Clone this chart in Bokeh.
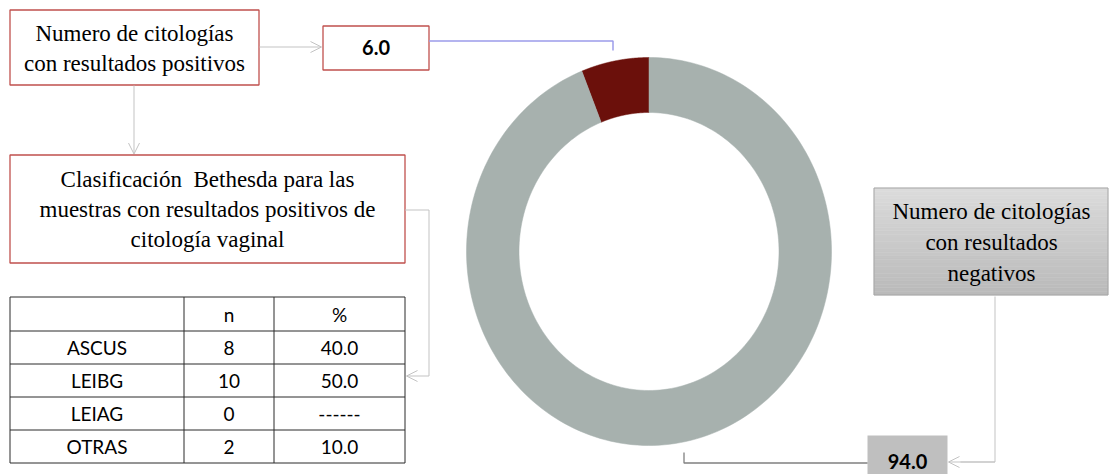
import numpy as np
from bokeh.plotting import figure
from bokeh.models import Range1d, Arrow, OpenHead
from bokeh.core.properties import value
from bokeh.embed import file_html
from bokeh.resources import INLINE

# ---- data ----
pie_labels = ["Positivos", "Negativos"]
pie_values = [6.0, 94.0]
pie_colors = ["#6b100b", "#a7b1ae"]

table_header = ["", "n", "%"]
table_cats = ["ASCUS", "LEIBG", "LEIAG", "OTRAS"]
table_n = ["8", "10", "0", "2"]
table_pct = ["40.0", "50.0", "------", "10.0"]

pos_label = ["Numero de citologías", "con resultados positivos"]
beth_label = ["Clasificación\u00a0\u00a0Bethesda para las", "muestras con resultados positivos de", "citología vaginal"]
neg_label = ["Numero de citologías", "con resultados", "negativos"]

W, H = 1110, 474
p = figure(width=W, height=H, x_range=Range1d(0, W), y_range=Range1d(H, 0),
           output_backend="svg", toolbar_location=None,
           x_axis_type=None, y_axis_type=None, min_border=0)
p.grid.visible = False
p.outline_line_color = None
p.background_fill_color = "white"

SERIF = value("Liberation Serif")
SANS = value("Lato")
RED = "#c0504d"
CONN = "#c3c3c3"

# ---- donut ----
cx, cy = 648.5, 251.0
rxo, ryo = 182.5, 194.0
rxi, ryi = 130.0, 139.0
total = sum(pie_values)
start = np.pi / 2
xs, ys = [], []
for v in pie_values:
    end = start + 2 * np.pi * v / total
    t = np.linspace(start, end, 200)
    ox = cx + rxo * np.cos(t); oy = cy - ryo * np.sin(t)
    ix = cx + rxi * np.cos(t[::-1]); iy = cy - ryi * np.sin(t[::-1])
    xs.append(list(np.concatenate([ox, ix])))
    ys.append(list(np.concatenate([oy, iy])))
    start = end
p.patches(xs, ys, fill_color=pie_colors, line_color=pie_colors, line_width=0.5)

# ---- box 1 : positives ----
p.quad(left=[9.5], right=[258.5], top=[9.5], bottom=[84.5], fill_color="white",
       line_color=RED, line_width=1.3)
p.text(x=[134, 134], y=[33, 63], text=pos_label, text_font=SERIF, text_font_size="23px",
       text_align="center", text_baseline="middle", text_color="black")

# value box 6.0
p.quad(left=[322.5], right=[428.5], top=[25.5], bottom=[69.5], fill_color="white",
       line_color=RED, line_width=1.3)
p.text(x=[375.5], y=[47], text=["%.1f" % pie_values[0]], text_font=SANS, text_font_style="bold",
       text_font_size="20px", text_align="center", text_baseline="middle", text_color="black")

# arrow box1 -> 6.0
p.add_layout(Arrow(x_start=259, y_start=46.5, x_end=321, y_end=46.5, line_color=CONN, line_width=1,
                   end=OpenHead(size=11, line_color=CONN, line_width=1)))
# blue leader from 6.0 to the red wedge
p.line([428.5, 612.5, 612.5], [40.5, 40.5, 50], line_color="#9c9cea", line_width=1.5)

# arrow box1 -> box2
p.add_layout(Arrow(x_start=133.5, y_start=85, x_end=133.5, y_end=153.5, line_color=CONN, line_width=1,
                   end=OpenHead(size=11, line_color=CONN, line_width=1)))

# ---- box 2 : Bethesda ----
p.quad(left=[9.5], right=[404.5], top=[154.5], bottom=[262.5], fill_color="white",
       line_color=RED, line_width=1.3)
p.text(x=[207, 207, 207], y=[179, 209, 239], text=beth_label, text_font=SERIF, text_font_size="23px",
       text_align="center", text_baseline="middle", text_color="black")

# connector box2 -> table
p.line([404.5, 428.5, 428.5], [209.5, 209.5, 375.5], line_color=CONN, line_width=1)
p.add_layout(Arrow(x_start=428.5, y_start=375.5, x_end=406, y_end=375.5, line_color=CONN, line_width=1,
                   end=OpenHead(size=11, line_color=CONN, line_width=1)))

# ---- table ----
col_edges = [9.5, 183.5, 273.5, 404.5]
row_edges = [296.5, 330.5, 363.5, 396.5, 429.5, 462.5]
seg_x0 = [col_edges[0]] * len(row_edges) + col_edges
seg_x1 = [col_edges[-1]] * len(row_edges) + col_edges
seg_y0 = row_edges + [row_edges[0]] * len(col_edges)
seg_y1 = row_edges + [row_edges[-1]] * len(col_edges)
p.segment(x0=seg_x0, y0=seg_y0, x1=seg_x1, y1=seg_y1, line_color="#2b2b2b", line_width=1)

col_c = [(col_edges[i] + col_edges[i + 1]) / 2 for i in range(3)]
row_c = [(row_edges[i] + row_edges[i + 1]) / 2 for i in range(5)]
cells_x, cells_y, cells_t = [], [], []
for j, h in enumerate(table_header):
    cells_x.append(col_c[j]); cells_y.append(row_c[0]); cells_t.append(h)
for i in range(len(table_cats)):
    for j, t in enumerate([table_cats[i], table_n[i], table_pct[i]]):
        cells_x.append(col_c[j]); cells_y.append(row_c[i + 1]); cells_t.append(t)
p.text(x=cells_x, y=cells_y, text=cells_t, text_font=SANS, text_font_size="19px",
       text_align="center", text_baseline="middle", text_color="black")

# ---- gray box : negatives (vertical gradient) ----
gx0, gx1, gy0, gy1 = 873.5, 1107.5, 187.5, 294.5
n_strips = 30
edges = np.linspace(gy0, gy1, n_strips + 1)
c_top, c_bot = np.array([220, 220, 220]), np.array([186, 186, 186])
cols = []
for k in range(n_strips):
    f = (k + 0.5) / n_strips
    c = (c_top * (1 - f) + c_bot * f).astype(int)
    cols.append("#%02x%02x%02x" % tuple(c))
p.quad(left=[gx0] * n_strips, right=[gx1] * n_strips, top=list(edges[:-1]), bottom=list(edges[1:]),
       fill_color=cols, line_color=cols, line_width=0.5)
p.quad(left=[gx0], right=[gx1], top=[gy0], bottom=[gy1], fill_color=None, line_color="#a6a6a6", line_width=1)
p.text(x=[991, 991, 991], y=[211, 242, 273], text=neg_label, text_font=SERIF, text_font_size="23px",
       text_align="center", text_baseline="middle", text_color="black")

# connector gray box -> 94.0
p.line([994.5, 994.5, 960], [296, 461.5, 461.5], line_color=CONN, line_width=1)
p.add_layout(Arrow(x_start=994.5, y_start=461.5, x_end=948, y_end=461.5, line_color=CONN, line_width=1,
                   end=OpenHead(size=11, line_color=CONN, line_width=1)))

# value box 94.0
p.quad(left=[867], right=[947], top=[435], bottom=[480], fill_color="#bfbfbf", line_color=None)
p.text(x=[907], y=[461], text=["%.1f" % pie_values[1]], text_font=SANS, text_font_style="bold",
       text_font_size="20px", text_align="center", text_baseline="middle", text_color="black")
# leader from 94.0 to the donut
p.line([867, 683.5, 683.5], [462.5, 462.5, 452], line_color="#808080", line_width=1.3)

open("out.html", "w").write(file_html(p, INLINE))
